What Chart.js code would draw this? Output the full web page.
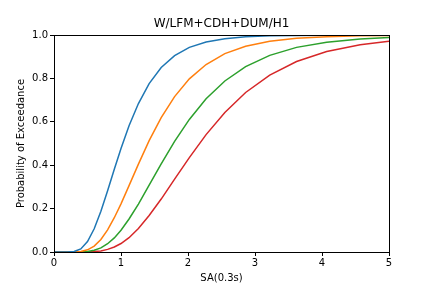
<!DOCTYPE html>
<html>
<head>
<meta charset="utf-8">
<script src="https://cdn.jsdelivr.net/npm/chart.js@4/dist/chart.umd.min.js"></script>
<style>
  html, body { margin: 0; padding: 0; background: #fff; }
</style>
</head>
<body>
<canvas id="fragChart" width="432" height="288"></canvas>
<script>
// SA values (g) shared by all curves
const sa = [0, 0.1, 0.2, 0.3, 0.4, 0.5, 0.6, 0.7, 0.8, 0.9, 1.0, 1.12, 1.26, 1.42, 1.6, 1.8, 2.02, 2.27, 2.55, 2.86, 3.22, 3.62, 4.07, 4.57, 5.0];

// probability of exceedance per damage state
const ds1 = [0, 0, 0.0001, 0.002, 0.014, 0.048, 0.107, 0.188, 0.282, 0.381, 0.477, 0.582, 0.684, 0.776, 0.850, 0.905, 0.943, 0.968, 0.983, 0.992, 0.996, 0.998, 0.999, 1.0, 1.0];
const ds2 = [0, 0, 0, 0.0002, 0.002, 0.010, 0.027, 0.058, 0.102, 0.158, 0.222, 0.306, 0.405, 0.513, 0.619, 0.716, 0.798, 0.864, 0.914, 0.948, 0.971, 0.985, 0.992, 0.996, 0.998];
const ds3 = [0, 0, 0, 0, 0.0005, 0.002, 0.008, 0.019, 0.038, 0.065, 0.100, 0.152, 0.221, 0.308, 0.406, 0.510, 0.611, 0.706, 0.788, 0.854, 0.906, 0.943, 0.967, 0.982, 0.989];
const ds4 = [0, 0, 0, 0, 0.0001, 0.0004, 0.002, 0.005, 0.012, 0.023, 0.039, 0.066, 0.108, 0.168, 0.244, 0.336, 0.435, 0.541, 0.643, 0.735, 0.815, 0.878, 0.924, 0.955, 0.971];

const xTicks = [0, 1, 2, 3, 4, 5];

function toPoints(ys) {
    return ys.map((y, i) => ({ x: sa[i], y: y }));
}

// matplotlib style box around the plot area
const frame = {
    id: 'frame',
    afterDraw(chart) {
        const a = chart.chartArea;
        const c = chart.ctx;
        c.save();
        c.strokeStyle = '#000';
        c.lineWidth = 1;
        c.strokeRect(Math.round(a.left) + 0.5, Math.round(a.top) + 0.5, Math.round(a.right - a.left), Math.round(a.bottom - a.top));
        c.restore();
    }
};

Chart.defaults.font.family = 'DejaVu Sans';
Chart.defaults.font.size = 10;
Chart.defaults.color = '#000';

const ctx = document.getElementById('fragChart');

new Chart(ctx, {
    type: 'line',
    data: {
        datasets: [
            { label: 'DS1', data: toPoints(ds1), borderColor: '#1f77b4' },
            { label: 'DS2', data: toPoints(ds2), borderColor: '#ff7f0e' },
            { label: 'DS3', data: toPoints(ds3), borderColor: '#2ca02c' },
            { label: 'DS4', data: toPoints(ds4), borderColor: '#d62728' }
        ].map(d => Object.assign(d, {
            backgroundColor: 'transparent',
            borderWidth: 1.5,
            pointRadius: 0,
            tension: 0
        }))
    },
    options: {
        responsive: false,
        animation: false,
        layout: { padding: { left: 15, right: 43, top: 0, bottom: 0 } },
        plugins: {
            legend: { display: false },
            tooltip: { enabled: false },
            title: {
                display: true,
                fullSize: false,
                text: 'W/LFM+CDH+DUM/H1',
                font: { size: 12, weight: 'normal' },
                color: '#000',
                padding: { top: 17, bottom: 3.6 }
            }
        },
        scales: {
            x: {
                type: 'linear',
                min: 0,
                max: 5,
                afterBuildTicks: s => { s.ticks = xTicks.map(v => ({ value: v })); },
                afterFit: s => { s.height = 36; },
                ticks: { padding: 1, maxRotation: 0 },
                grid: { display: true, drawOnChartArea: false, drawTicks: true, tickLength: 4, color: '#000' },
                border: { display: true, color: '#000' },
                title: { display: true, text: 'SA(0.3s)', padding: { top: 0, bottom: 4 } }
            },
            y: {
                min: 0,
                max: 1,
                afterFit: s => { s.width = 39; },
                ticks: { stepSize: 0.2, padding: 2, callback: v => v.toFixed(1) },
                grid: { display: true, drawOnChartArea: false, drawTicks: true, tickLength: 4, color: '#000' },
                border: { display: true, color: '#000' },
                title: { display: true, text: 'Probability of Exceedance', padding: { top: 0, bottom: 2 } }
            }
        }
    },
    plugins: [frame]
});
</script>
</body>
</html>
